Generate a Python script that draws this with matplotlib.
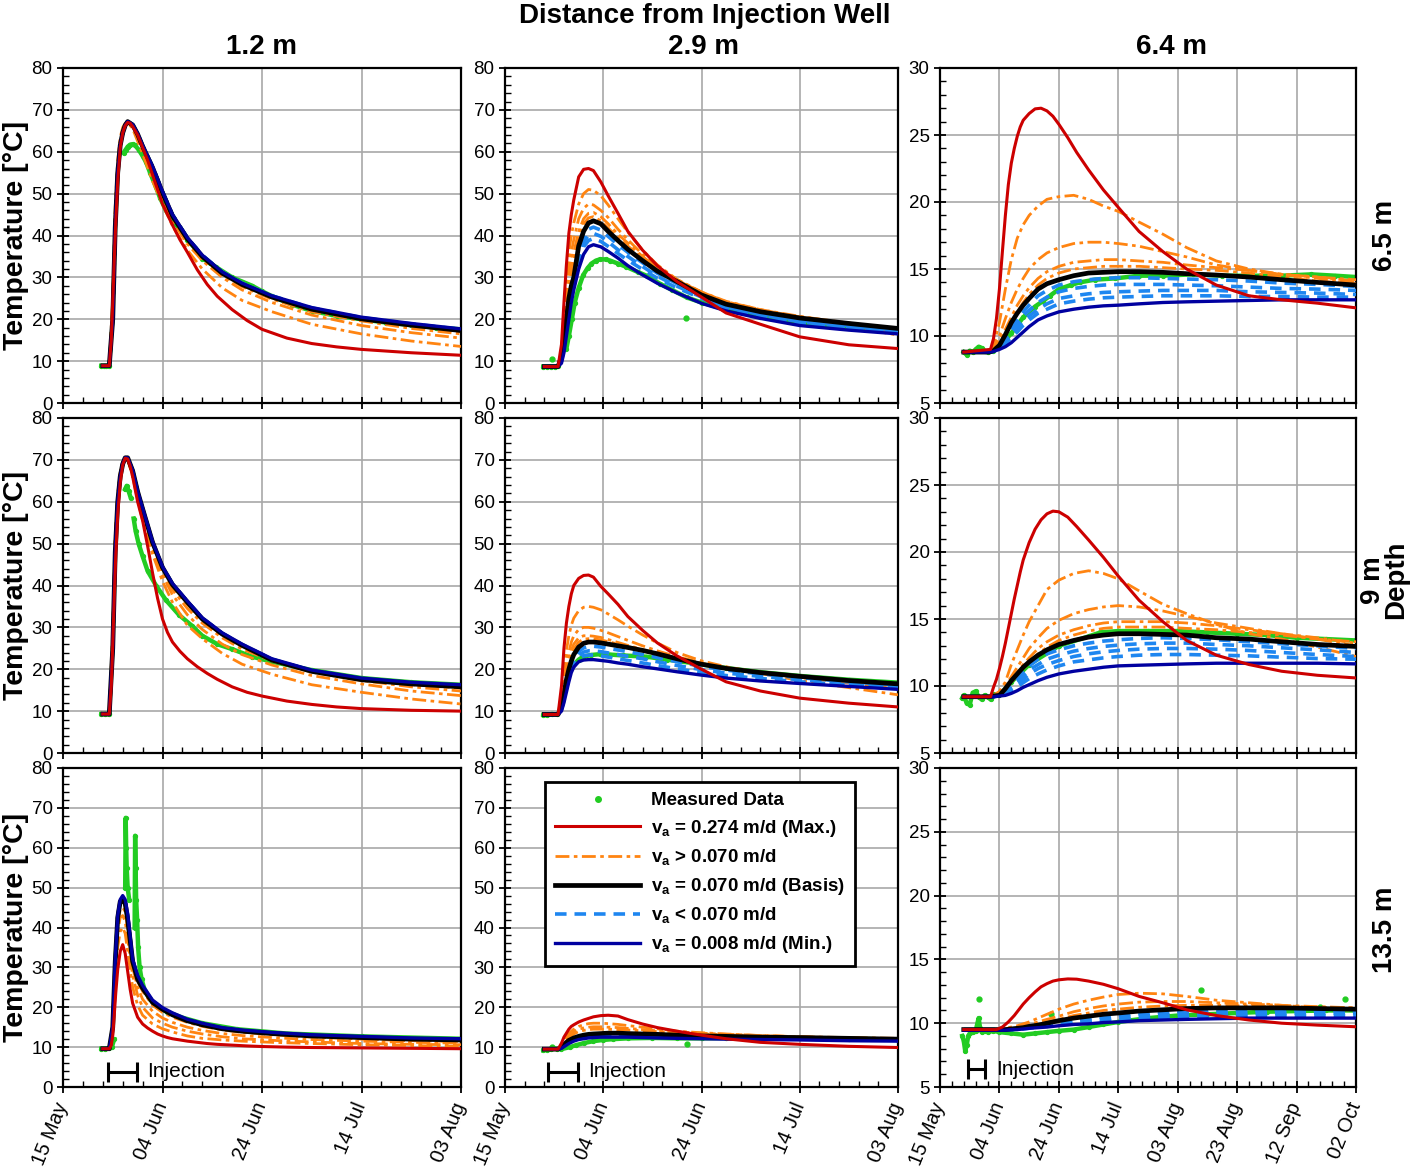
import numpy as np
import matplotlib.pyplot as plt
from matplotlib.lines import Line2D
from matplotlib.ticker import MultipleLocator

plt.rcParams['font.family'] = ['Liberation Sans', 'DejaVu Sans']
plt.rcParams['mathtext.fontset'] = 'custom'
plt.rcParams['mathtext.rm'] = 'Liberation Sans'
plt.rcParams['mathtext.bf'] = 'Liberation Sans:bold'

nan = np.nan

# ---- axis labels / ticks ----
col_titles = ['1.2 m', '2.9 m', '6.4 m']
row_titles = ['6.5 m', '9 m\nDepth', '13.5 m']
date_days_short = [0, 20, 40, 60, 80]
date_labels_short = ['15 May', '04 Jun', '24 Jun', '14 Jul', '03 Aug']
date_days_long = [0, 20, 40, 60, 80, 100, 120, 140]
date_labels_long = ['15 May', '04 Jun', '24 Jun', '14 Jul', '03 Aug', '23 Aug', '12 Sep', '02 Oct']
legend_labels = ['Measured Data',
                 r'v$_\mathbf{a}$ = 0.274 m/d (Max.)',
                 r'v$_\mathbf{a}$ > 0.070 m/d',
                 r'v$_\mathbf{a}$ = 0.070 m/d (Basis)',
                 r'v$_\mathbf{a}$ < 0.070 m/d',
                 r'v$_\mathbf{a}$ = 0.008 m/d (Min.)']
inj_start = [9.0, 8.75, 9.3]   # days after 15 May
inj_end = [14.9, 14.9, 15.3]

# ---- time grids (days after 15 May) ----
t_col1 = [8, 9.3, 10, 10.5, 11, 11.5, 12, 12.5, 13, 14, 15, 16, 18, 20, 22, 25, 28, 32, 36, 42, 50, 60, 70, 80]
t_col2 = [8, 10.8, 11.5, 12, 12.5, 13, 13.5, 14, 15, 16, 17, 18, 19.5, 21, 23, 25, 28, 31, 35, 40, 45, 52, 60, 70, 80]
t_col3 = [8, 16.6, 18, 20, 22, 24, 26, 28, 30, 33, 36, 40, 45, 50, 55, 60, 67, 75, 83, 93, 104, 115, 127, 140]
# denser grids for the fast v_a = 0.274 m/d curve
t_red1 = [8, 9.3, 9.7, 10, 10.3, 10.6, 11, 11.5, 12, 12.5, 13, 13.5, 14, 15, 16, 17, 18, 19, 20, 21, 22, 23.5,
          25, 27, 29, 31, 34, 37, 40, 45, 50, 55, 60, 70, 80]
t_red3 = [8, 17, 18, 19, 20, 21, 22, 23, 24, 25, 26, 27, 28, 30, 32, 34, 36, 38, 40, 43, 46, 50, 55, 60, 67,
          75, 83, 93, 104, 115, 127, 140]

# ===== depth 6.5 m, 1.2 m =====
red_a1 = [8.9, 8.9, 15, 24, 34, 43, 53, 61, 64.5, 66.2, 67, 66.8, 66, 64, 61, 58, 54.5, 51, 47.5, 45, 42.5, 39,
          36, 31.8, 28.3, 25.5, 22.3, 19.7, 17.6, 15.5, 14.2, 13.4, 12.8, 12.0, 11.4]
org_a1 = [[8.9, 8.9, 25, 47, 58, 63.5, 65.8, 66.8, 67, 65.5, 62.5, 59.5, 53, 47.5, 42.3, 36.5, 32, 27.5, 24.5, 21.8, 18.8, 16.5, 14.8, 13.5],
          [8.9, 8.9, 23, 45, 56.5, 62.3, 65, 66.5, 67.1, 65.8, 63.2, 60, 54.5, 48.5, 43.5, 38, 34, 30, 27, 24, 21, 18.5, 16.8, 15.5],
          [8.9, 8.9, 22, 44, 56, 62, 64.8, 66.5, 67.1, 66, 63.5, 60.5, 55, 49, 44, 38.5, 34.5, 30.5, 27.8, 24.8, 21.8, 19.6, 17.8, 16.5],
          [8.9, 8.9, 21, 43, 55.5, 61.8, 64.7, 66.4, 67.2, 66.2, 63.8, 60.8, 55.5, 49.3, 44.3, 38.8, 34.8, 30.8, 28.2, 25.2, 22.2, 20.0, 18.4, 17.0]]
bas_a1 = [8.9, 8.9, 20, 42, 55, 61.5, 64.5, 66.3, 67.2, 66.4, 64.2, 61.3, 56.2, 50.2, 44.7, 39.2, 35, 31, 28.3, 25.3, 22.4, 20.1, 18.6, 17.3]
dsh_a1 = [[8.9, 8.9, 20, 42, 55, 61.5, 64.5, 66.3, 67.2, 66.4, 64.2, 61.4, 56.4, 50.4, 44.9, 39.4, 35.2, 31.2, 28.5, 25.5, 22.6, 20.3, 18.8, 17.5],
          [8.9, 8.9, 20, 42, 55, 61.5, 64.5, 66.3, 67.2, 66.5, 64.3, 61.5, 56.5, 50.5, 45, 39.5, 35.3, 31.3, 28.6, 25.6, 22.7, 20.4, 18.9, 17.6]]
min_a1 = [8.9, 8.9, 20, 42, 55, 61.5, 64.5, 66.3, 67.2, 66.5, 64.3, 61.5, 56.5, 50.5, 45, 39.5, 35.3, 31.3, 28.6, 25.6, 22.8, 20.5, 19.0, 17.7]
meas_t_a1 = [7.7, 8.2, 8.7, 9.2, nan, 12.2, 12.6, 13.0, 13.5, 14.0, 14.5, 15.2, 16.0, 16.7, 17.5, 18.7, 19.5, 20.7, 21.5, 22.5, 23.7, 25, 26.5, 28, 29.5, 30.7, 34, 36, 38, 40, 42, 46, 50, 55, 60, 65, 70, 75, 80]
meas_v_a1 = [8.9, 8.9, 8.9, 8.9, nan, 59.8, 60.5, 61.2, 61.7, 61.8, 61.5, 60.5, 59, 57.5, 55, 51.5, 49, 46, 44.5, 43, 41, 39, 37, 34.5, 33.5, 32.5, 30, 29, 28, 26.7, 25.5, 23.5, 22, 20.8, 20, 19.2, 18.6, 18, 17.6]
out_t_a1, out_v_a1 = [], []

# ===== depth 6.5 m, 2.9 m =====
red_a2 = [8.7, 8.7, 14, 24, 33, 40.5, 45, 48.5, 54, 55.8, 56, 55.5, 52.8, 49.5, 45.3, 41, 36.5, 32.8, 29, 25.3, 21.5, 18.8, 15.8, 13.9, 13.0]
org_a2 = [[8.7, 8.7, 13, 22, 30, 36, 40, 43, 47.5, 50, 51, 50.8, 49.5, 47.3, 44, 40.8, 36.5, 33, 29.5, 26.5, 24, 21.8, 20, 18.3, 16.2],
          [8.7, 8.7, 12, 19, 27, 32, 36, 39, 44, 46.5, 47.5, 47.3, 46, 44.3, 41.5, 39, 35.5, 32.5, 29.5, 26.5, 24.3, 22.3, 20.5, 18.8, 16.8],
          [8.7, 8.7, 11.5, 17, 24, 29, 33, 36, 41, 44, 45.3, 45.5, 44.5, 42.8, 40.3, 38.2, 35, 32.2, 29.3, 26.5, 24.2, 22.3, 20.7, 19, 17.2],
          [8.7, 8.7, 11.2, 16, 22, 27, 31, 34, 39.5, 42.8, 44.2, 44.5, 43.5, 41.8, 39.5, 37.5, 34.6, 32, 29.2, 26.3, 24, 22.1, 20.6, 19.1, 17.5]]
bas_a2 = [8.7, 8.7, 11, 15, 20, 25, 28, 30, 37.5, 41, 43, 43.5, 42.8, 41, 38.8, 36.7, 34, 31.5, 29, 25.8, 23.6, 21.8, 20.3, 19.0, 17.8]
dsh_a2 = [[8.7, 8.7, 10.7, 14, 19, 23.5, 27, 29.5, 35.5, 39.5, 41.5, 42, 41.3, 39.8, 37.8, 36, 33.5, 31, 28.5, 25.6, 23.2, 21.4, 19.8, 18.5, 17.4],
          [8.7, 8.7, 10.3, 13.3, 18, 22.5, 26, 28.5, 34.5, 38.5, 40, 40.5, 39.8, 38.5, 36.6, 35, 32.6, 30.3, 27.9, 25.3, 22.9, 21.1, 19.4, 18.1, 17.1],
          [8.7, 8.7, 10, 12.8, 17, 21.3, 25, 27.8, 33.5, 37.3, 38.8, 39.3, 38.6, 37.4, 35.7, 34.1, 31.9, 29.8, 27.5, 25.0, 22.6, 20.8, 19.1, 17.8, 16.8]]
min_a2 = [8.7, 8.7, 9.5, 12, 16, 20, 24, 27, 32, 35.5, 37.3, 37.8, 37.3, 36.2, 34.6, 32.8, 30.6, 28.6, 26.3, 23.8, 22, 20.2, 18.5, 17.4, 16.5]
meas_t_a2 = [7.8, 8.5, 9.3, 10.2, 10.8, nan, 12.5, 13, 13.6, 14.2, 15, 15.9, 16.8, 17.6, 18.5, 19.3, 20.5, 21.4, 23, 24.7, 27, 29, 31.5, 34, 37, 40, 45, 52, 60, 70, 80]
meas_v_a2 = [8.7, 8.7, 8.7, 8.7, 8.8, nan, 13, 16, 20, 24, 27.5, 30.5, 32.2, 33.3, 34, 34.3, 34.3, 34, 33.3, 32.5, 31.3, 30.3, 28.5, 27, 25.2, 24, 22.3, 20.5, 19.2, 18.2, 17.5]
out_t_a2, out_v_a2 = [9.6, 36.8], [10.5, 20.3]

# ===== depth 6.5 m, 6.4 m =====
red_a3 = [8.8, 9.0, 9.8, 11.3, 13.5, 16.3, 19, 21.3, 22.9, 24, 24.9, 25.6, 26.1, 26.6, 26.95, 27, 26.8, 26.4,
          25.8, 24.8, 23.7, 22.4, 20.9, 19.6, 17.8, 16.3, 15, 13.8, 13, 12.7, 12.45, 12.1]
org_a3 = [[8.8, 8.8, 9.3, 11, 13.5, 15.7, 17.3, 18.3, 19, 19.7, 20.2, 20.4, 20.5, 20.2, 19.7, 19.3, 18.5, 17.6, 16.6, 15.6, 15, 14.6, 14.4, 14.1],
          [8.8, 8.8, 9.1, 10, 11.3, 12.5, 13.5, 14.3, 15, 15.7, 16.2, 16.6, 16.9, 17, 17, 16.9, 16.7, 16.3, 15.9, 15.3, 14.9, 14.6, 14.4, 14.2],
          [8.8, 8.8, 9, 9.6, 10.5, 11.4, 12.3, 13, 13.6, 14.3, 14.8, 15.2, 15.5, 15.6, 15.7, 15.7, 15.6, 15.5, 15.3, 15.1, 14.9, 14.6, 14.3, 14.0],
          [8.8, 8.8, 9, 9.4, 10.2, 11, 11.8, 12.5, 13.1, 13.8, 14.3, 14.7, 15, 15.1, 15.2, 15.2, 15.2, 15.1, 15, 14.9, 14.7, 14.4, 14.1, 13.9]]
bas_a3 = [8.8, 8.8, 8.9, 9.3, 10.1, 11, 11.7, 12.3, 12.8, 13.5, 13.9, 14.2, 14.5, 14.7, 14.75, 14.8, 14.8, 14.75, 14.65, 14.55, 14.4, 14.2, 14.0, 13.8]
dsh_a3 = [[8.8, 8.8, 8.9, 9.2, 9.8, 10.5, 11.2, 11.8, 12.3, 13, 13.4, 13.8, 14.05, 14.2, 14.3, 14.35, 14.35, 14.3, 14.25, 14.2, 14.1, 13.95, 13.85, 13.7],
          [8.8, 8.8, 8.9, 9.15, 9.7, 10.3, 10.9, 11.5, 11.9, 12.5, 12.9, 13.3, 13.55, 13.7, 13.8, 13.85, 13.85, 13.85, 13.8, 13.75, 13.65, 13.55, 13.5, 13.4],
          [8.8, 8.8, 8.9, 9.1, 9.6, 10.1, 10.6, 11.1, 11.5, 12.0, 12.4, 12.8, 13.0, 13.15, 13.25, 13.3, 13.35, 13.4, 13.4, 13.4, 13.3, 13.25, 13.2, 13.1],
          [8.8, 8.8, 8.85, 9.05, 9.4, 9.9, 10.3, 10.8, 11.2, 11.7, 12.0, 12.4, 12.6, 12.75, 12.85, 12.9, 12.95, 13, 13, 13, 12.95, 12.95, 12.9, 12.9]]
min_a3 = [8.8, 8.8, 8.85, 9, 9.2, 9.5, 9.9, 10.3, 10.7, 11.2, 11.5, 11.8, 12, 12.15, 12.25, 12.3, 12.4, 12.5, 12.55, 12.6, 12.65, 12.7, 12.7, 12.7]
meas_t_a3 = [8, 9, 10, 11, 12, 13, 14, 15, 16, 18, 20, 24, 28, 32, 34.6, 37, 40, 44, 47, 52, 59, 67, 75, 85, 95, 105, 115, 125, 133, 140]
meas_v_a3 = [8.8, 8.6, 8.9, 8.8, 9.0, 9.2, 9.1, 8.9, 8.8, 8.9, 9.2, 10.2, 11.4, 12.2, 12.6, 13.0, 13.5, 13.8, 14.0, 14.2, 14.3, 14.5, 14.5, 14.6, 14.5, 14.5, 14.5, 14.6, 14.5, 14.4]
out_t_a3, out_v_a3 = [], []

# ===== depth 9 m, 1.2 m =====
red_b1 = [9.3, 9.3, 16, 26, 37, 47, 57, 64.5, 68.8, 70.4, 70.2, 68.5, 66, 60, 55.5, 49.5, 43, 37, 32, 28.8, 26.5, 24.3,
          22.5, 20.6, 19, 17.6, 15.8, 14.5, 13.6, 12.4, 11.6, 11, 10.6, 10.2, 10.0]
org_b1 = [[9.3, 9.3, 29, 51.5, 61.8, 67, 69.5, 70.5, 70, 66, 60.5, 55.5, 47.5, 41, 36, 30.5, 27.3, 23.8, 21.2, 18.8, 16.3, 14.5, 12.9, 11.7],
          [9.3, 9.3, 28, 51, 61.5, 66.8, 69.4, 70.5, 70.1, 66.5, 61, 56.3, 48.5, 42.5, 37.8, 33, 29.5, 26, 23.5, 21, 18.5, 16.5, 14.8, 13.7],
          [9.3, 9.3, 27, 50, 61, 66.5, 69.3, 70.5, 70.2, 66.8, 61.5, 57, 49, 43.5, 39, 34.5, 31, 27.5, 24.8, 22, 19.3, 17.3, 15.8, 14.8],
          [9.3, 9.3, 26, 49, 60.5, 66.3, 69.2, 70.5, 70.3, 67, 62, 57.5, 49.5, 44, 40, 35.5, 31.8, 28.2, 25.5, 22.3, 19.6, 17.6, 16.3, 15.5]]
bas_b1 = [9.3, 9.3, 25, 48, 60, 66, 69, 70.5, 70.5, 67.4, 62.4, 58.3, 50.3, 44.3, 40.2, 36, 32, 28.4, 25.7, 22.2, 19.5, 17.5, 16.5, 15.8]
dsh_b1 = [[9.3, 9.3, 25, 48, 60, 66, 69, 70.5, 70.5, 67.5, 62.5, 58.4, 50.4, 44.4, 40.4, 36.2, 32.2, 28.6, 25.9, 22.4, 19.7, 17.7, 16.7, 16.1]]
min_b1 = [9.3, 9.3, 25, 48, 60, 66, 69, 70.5, 70.5, 67.5, 62.5, 58.5, 50.5, 44.5, 40.5, 36.3, 32.3, 28.7, 26, 22.5, 19.8, 17.9, 16.9, 16.3]
meas_t_b1 = [7.7, 8.5, 9.3, nan, 12.5, 12.8, 13.2, 13.6, nan, 14.2, 14.6, 15.2, 16, 17, 18.7, 20.7, 23.3, 26, 28, 31, 34, 38, 42, 50, 60, 70, 80]
meas_v_b1 = [9.3, 9.3, 9.3, nan, 63, 63.8, 62.5, 61, nan, 56, 53, 50, 47, 43.5, 40, 36.5, 33, 30.3, 28, 26, 24.8, 23, 21.8, 19.8, 17.9, 16.9, 16.3]
out_t_b1, out_v_b1 = [], []

# ===== depth 9 m, 2.9 m =====
red_b2 = [9.2, 9.2, 16, 25, 31, 35, 38, 40, 41.7, 42.4, 42.5, 42, 39.8, 38, 35.5, 32.6, 29.3, 26.3, 23.2, 20, 17, 14.8, 13.1, 11.9, 11.0]
org_b2 = [[9.2, 9.2, 14, 20, 24.5, 28, 30.5, 32.2, 34, 34.8, 35, 34.8, 34.2, 33.2, 31.8, 30.3, 28.2, 26.3, 24, 22, 20.6, 19.0, 17.3, 15.6, 13.9],
          [9.2, 9.2, 12.5, 17, 21, 24, 26.5, 28, 29.5, 30, 30, 29.8, 29.3, 28.7, 27.8, 26.9, 25.6, 24.4, 23, 21.6, 20.5, 19.2, 18, 16.7, 15.3],
          [9.2, 9.2, 12, 16, 19.5, 22.3, 24.5, 26, 27.5, 28, 28, 27.9, 27.6, 27.1, 26.4, 25.7, 24.7, 23.7, 22.5, 21.3, 20.3, 19.2, 18.2, 17, 16],
          [9.2, 9.2, 11.6, 15, 18.5, 21.3, 23.3, 24.8, 26.5, 27.2, 27.3, 27.3, 27, 26.6, 26, 25.4, 24.6, 23.7, 22.6, 21.4, 20.4, 19.3, 18.4, 17.3, 16.3]]
bas_b2 = [9.2, 9.2, 11, 14, 17.5, 20, 22, 23.5, 25.3, 26.2, 26.5, 26.5, 26.3, 26, 25.6, 25.2, 24.5, 23.7, 22.5, 21.2, 20.2, 19.2, 18.3, 17.3, 16.5]
dsh_b2 = [[9.2, 9.2, 10.8, 13.5, 16.5, 19, 21, 22.5, 24.3, 25.1, 25.4, 25.5, 25.3, 25, 24.6, 24.2, 23.5, 22.8, 21.8, 20.7, 19.8, 18.9, 18, 17, 16.2],
          [9.2, 9.2, 10.6, 13, 16, 18.5, 20.5, 21.8, 23.4, 24.1, 24.4, 24.4, 24.2, 23.9, 23.5, 23.1, 22.5, 21.8, 20.9, 19.9, 19.1, 18.3, 17.5, 16.6, 15.9],
          [9.2, 9.2, 10.3, 12.6, 15.3, 17.8, 19.8, 21.2, 22.6, 23.2, 23.4, 23.4, 23.2, 22.9, 22.5, 22.1, 21.5, 20.9, 20.1, 19.2, 18.5, 17.8, 17, 16.3, 15.6]]
min_b2 = [9.2, 9.2, 10, 12, 14.5, 17, 19.2, 20.5, 21.8, 22.2, 22.3, 22.3, 22.1, 21.9, 21.5, 21.2, 20.6, 20.1, 19.4, 18.6, 17.9, 17.2, 16.6, 15.9, 15.2]
meas_t_b2 = [7.8, 8.5, 9.5, 10.5, nan, 13.9, 15, 15.9, 17.5, 19.3, 21.4, 24, 28.8, 33, 38, 45, 52, 60, 70, 80]
meas_v_b2 = [9.1, 9.0, 9.3, 9.2, nan, 21, 22.3, 23, 23.4, 23.6, 23.5, 23.3, 23, 22.3, 21.5, 20.3, 19.3, 18.4, 17.5, 16.8]
out_t_b2, out_v_b2 = [], []

# ===== depth 9 m, 6.4 m =====
red_b3 = [9.2, 9.2, 9.9, 10.5, 11.3, 12.2, 13.2, 14.3, 15.4, 16.5, 17.5, 18.5, 19.4, 20.7, 21.7, 22.4, 22.85, 23.05,
          23, 22.6, 21.9, 20.9, 19.6, 18.2, 16.4, 14.8, 13.4, 12.3, 11.6, 11.1, 10.8, 10.6]
org_b3 = [[9.2, 9.2, 9.3, 9.6, 10.3, 11.6, 12.7, 13.8, 14.8, 16, 17.2, 17.9, 18.4, 18.6, 18.4, 18.0, 17.1, 16.1, 15.4, 14.6, 13.9, 13.5, 12.9, 12.2],
          [9.2, 9.2, 9.25, 9.5, 10, 10.7, 11.4, 12.1, 12.8, 13.6, 14.3, 14.9, 15.4, 15.7, 15.9, 16, 15.9, 15.6, 15.2, 14.7, 14.3, 13.9, 13.5, 13.0],
          [9.2, 9.2, 9.25, 9.45, 9.9, 10.4, 11, 11.6, 12.1, 12.8, 13.3, 13.8, 14.2, 14.5, 14.7, 14.8, 14.8, 14.8, 14.7, 14.5, 14.2, 13.9, 13.6, 13.2],
          [9.2, 9.2, 9.25, 9.4, 9.8, 10.3, 10.8, 11.3, 11.8, 12.4, 12.9, 13.4, 13.8, 14.1, 14.3, 14.4, 14.4, 14.4, 14.3, 14.2, 14, 13.8, 13.5, 13.3]]
bas_b3 = [9.2, 9.2, 9.25, 9.3, 9.8, 10.4, 10.9, 11.4, 11.8, 12.3, 12.7, 13.1, 13.4, 13.65, 13.8, 13.9, 13.9, 13.85, 13.8, 13.6, 13.5, 13.3, 13.1, 12.95]
dsh_b3 = [[9.2, 9.2, 9.25, 9.3, 9.7, 10.2, 10.7, 11.1, 11.5, 12, 12.4, 12.7, 13, 13.2, 13.35, 13.45, 13.55, 13.6, 13.55, 13.45, 13.3, 13.15, 13.0, 12.8],
          [9.2, 9.2, 9.25, 9.3, 9.6, 10.0, 10.4, 10.8, 11.2, 11.6, 12.0, 12.3, 12.6, 12.8, 12.95, 13.05, 13.15, 13.2, 13.2, 13.1, 13, 12.85, 12.7, 12.5],
          [9.2, 9.2, 9.2, 9.3, 9.5, 9.8, 10.2, 10.5, 10.9, 11.3, 11.6, 11.9, 12.2, 12.4, 12.55, 12.65, 12.75, 12.8, 12.8, 12.75, 12.65, 12.5, 12.35, 12.2],
          [9.2, 9.2, 9.2, 9.3, 9.4, 9.65, 9.95, 10.25, 10.55, 10.9, 11.2, 11.5, 11.8, 11.95, 12.1, 12.2, 12.3, 12.35, 12.35, 12.3, 12.25, 12.15, 12.05, 12.0]]
min_b3 = [9.2, 9.2, 9.2, 9.25, 9.3, 9.45, 9.65, 9.9, 10.1, 10.4, 10.65, 10.9, 11.1, 11.25, 11.4, 11.5, 11.55, 11.6, 11.65, 11.7, 11.7, 11.7, 11.7, 11.65]
meas_t_b3 = [7.5, 8, 9, 10, 11, 12, 13, 14, 15, 16, 17, 18, 20, 24, 30, 40, 50, 54, 60, 70, 80, 90, 100, 110, 120, 130, 140]
meas_v_b3 = [9.1, 9.3, 8.7, 8.6, 9.5, 9.6, 9.2, 9.0, 9.3, 9.2, 9.0, 9.4, 9.3, 10.3, 11.6, 13, 13.7, 14, 14.1, 14.1, 14.1, 14.0, 13.9, 13.8, 13.6, 13.5, 13.4]
out_t_b3, out_v_b3 = [], []

# ===== depth 13.5 m, 1.2 m =====
red_c1 = [9.6, 9.6, 10.5, 13, 18, 23.5, 29.5, 34, 35.7, 33.5, 29, 24.5, 21, 17.5, 15.8, 14.8, 14, 13.3, 12.8, 12.4,
          12.1, 11.8, 11.5, 11.2, 10.9, 10.7, 10.5, 10.3, 10.15, 10, 9.9, 9.85, 9.8, 9.7, 9.6]
org_c1 = [[9.6, 9.6, 13, 25, 35, 39, 40, 38.5, 34, 25, 20.5, 18, 15.8, 14.6, 13.8, 12.8, 12.2, 11.8, 11.5, 11.2, 10.9, 10.6, 10.4, 10.2],
          [9.6, 9.6, 14, 28, 39, 42.5, 43, 41.5, 37, 28, 23, 20, 17.3, 16, 15, 14, 13.3, 12.6, 12.1, 11.7, 11.3, 10.9, 10.7, 10.6],
          [9.6, 9.6, 14.5, 30, 41, 44.5, 45, 44, 39.5, 30, 25, 22, 19, 17.3, 16.2, 15, 14.2, 13.4, 12.9, 12.4, 11.9, 11.5, 11.2, 11.0],
          [9.6, 9.6, 15, 31, 42, 46, 46.5, 45.5, 41, 31, 26.5, 24, 20.5, 18.7, 17.5, 16.2, 15.2, 14.3, 13.7, 13.1, 12.5, 12, 11.6, 11.4]]
bas_c1 = [9.6, 9.6, 15, 31.5, 42.5, 46.5, 47, 46, 42, 31.5, 27, 24.8, 21.2, 19.5, 18.1, 16.6, 15.6, 14.6, 14, 13.4, 12.8, 12.4, 12.0, 11.8]
dsh_c1 = [[9.6, 9.6, 15, 31.8, 42.8, 46.8, 47.5, 46.5, 42.8, 31.8, 27.5, 25.2, 21.5, 19.7, 18.4, 16.8, 15.8, 14.8, 14.2, 13.55, 12.95, 12.55, 12.15, 11.95]]
min_c1 = [9.6, 9.6, 15, 32, 43, 47, 48, 47, 43.5, 32, 28, 25.5, 21.8, 19.9, 18.6, 17, 16, 14.9, 14.3, 13.7, 13.1, 12.7, 12.3, 12.1]
meas_t_c1 = [7.7, 8.5, 9.3, 9.8, 10.3, nan, 12.5, 12.6, 12.7, 12.8, 13.0, 13.3, nan, 14.4, 14.5, 14.6, 14.7, 14.9, 15.1, 15.4, 15.8, 16.5, 17.5, 19, 21, 24, 28, 35, 45, 60, 80]
meas_v_c1 = [9.6, 9.6, 9.8, 10, 12, nan, 50, 67.5, 60, 55, 50, 47, nan, 40, 63, 55, 47, 42, 35, 30, 27, 24, 22, 20, 18.8, 17.4, 16, 14.5, 13.4, 12.7, 12.1]
out_t_c1, out_v_c1 = [], []

# ===== depth 13.5 m, 2.9 m =====
red_c2 = [9.5, 9.5, 11, 12.5, 13.5, 14.5, 15.2, 15.6, 16.3, 16.8, 17.2, 17.6, 17.9, 18, 17.8, 16.9, 15.8, 14.9, 14, 13, 12.1, 11.2, 10.7, 10.2, 9.9]
org_c2 = [[9.5, 9.5, 10.6, 11.6, 12.6, 13.4, 14, 14.5, 15.2, 15.6, 15.9, 16, 16, 15.9, 15.7, 15.4, 15, 14.6, 14, 13.6, 13.3, 12.9, 12.6, 12.2, 11.8],
          [9.5, 9.5, 10.4, 11.2, 12.1, 12.8, 13.4, 13.9, 14.5, 14.8, 15, 15.1, 15.1, 15, 14.9, 14.7, 14.4, 14.1, 13.8, 13.5, 13.2, 12.9, 12.6, 12.3, 12],
          [9.5, 9.5, 10.2, 11, 11.8, 12.4, 12.9, 13.3, 13.9, 14.2, 14.4, 14.5, 14.5, 14.5, 14.4, 14.3, 14.1, 13.9, 13.6, 13.3, 13.1, 12.9, 12.6, 12.4, 12.2]]
bas_c2 = [9.5, 9.5, 10, 10.6, 11.2, 11.7, 12, 12.3, 12.7, 13, 13.2, 13.3, 13.4, 13.5, 13.5, 13.4, 13.3, 13.2, 13, 12.8, 12.7, 12.5, 12.4, 12.2, 12]
dsh_c2 = [[9.5, 9.5, 9.9, 10.4, 10.9, 11.3, 11.7, 12, 12.4, 12.7, 12.9, 13, 13.1, 13.1, 13.1, 13.1, 13, 12.9, 12.7, 12.5, 12.4, 12.3, 12.1, 12, 11.8],
          [9.5, 9.5, 9.8, 10.2, 10.7, 11.1, 11.4, 11.7, 12.1, 12.4, 12.6, 12.7, 12.8, 12.8, 12.8, 12.8, 12.7, 12.6, 12.5, 12.3, 12.2, 12.1, 12, 11.8, 11.7]]
min_c2 = [9.5, 9.5, 9.7, 10.1, 10.5, 10.9, 11.2, 11.5, 11.9, 12.1, 12.3, 12.4, 12.5, 12.5, 12.5, 12.5, 12.4, 12.3, 12.2, 12.1, 12, 11.9, 11.8, 11.6, 11.5]
meas_t_c2 = [7.8, 8.5, 9.3, 10.5, 11.5, 13.2, 14.5, 16, 18, 20, 22, 25, 30, 35, 40, 45, 52, 60, 70, 80]
meas_v_c2 = [9.2, 9.3, 9.5, 9.6, 9.5, 10, 10.5, 11, 11.5, 11.8, 12, 12.2, 12.3, 12.2, 12.2, 12.3, 12.3, 12.2, 12.1, 11.9]
out_t_c2, out_v_c2 = [9.6, 37], [10.0, 10.8]

# ===== depth 13.5 m, 6.4 m =====
red_c3 = [9.5, 9.5, 9.5, 9.5, 9.6, 9.7, 9.9, 10.1, 10.35, 10.6, 10.9, 11.2, 11.5, 12, 12.45, 12.85, 13.1, 13.3,
          13.4, 13.47, 13.45, 13.3, 13.05, 12.7, 12.1, 11.6, 11.05, 10.6, 10.25, 10.0, 9.85, 9.72]
org_c3 = [[9.5, 9.5, 9.5, 9.55, 9.6, 9.7, 9.8, 9.95, 10.1, 10.4, 10.7, 11.1, 11.5, 11.8, 12.05, 12.25, 12.35, 12.3, 12.1, 11.8, 11.6, 11.4, 11.2, 11.0],
          [9.5, 9.5, 9.5, 9.5, 9.55, 9.6, 9.7, 9.8, 9.9, 10.1, 10.3, 10.55, 10.9, 11.15, 11.35, 11.5, 11.65, 11.7, 11.7, 11.6, 11.5, 11.4, 11.3, 11.2],
          [9.5, 9.5, 9.5, 9.5, 9.5, 9.55, 9.6, 9.7, 9.8, 9.95, 10.1, 10.3, 10.6, 10.8, 11, 11.1, 11.25, 11.35, 11.4, 11.4, 11.35, 11.3, 11.25, 11.2]]
bas_c3 = [9.5, 9.5, 9.5, 9.5, 9.5, 9.55, 9.6, 9.65, 9.75, 9.85, 10, 10.2, 10.4, 10.55, 10.7, 10.8, 10.95, 11.05, 11.15, 11.2, 11.2, 11.2, 11.15, 11.1]
dsh_c3 = [[9.5, 9.5, 9.5, 9.5, 9.5, 9.5, 9.55, 9.6, 9.7, 9.8, 9.9, 10.05, 10.2, 10.35, 10.5, 10.6, 10.75, 10.85, 10.95, 11, 11, 11, 11, 11],
          [9.5, 9.5, 9.5, 9.5, 9.5, 9.5, 9.55, 9.6, 9.65, 9.75, 9.85, 9.95, 10.05, 10.2, 10.3, 10.4, 10.55, 10.65, 10.75, 10.8, 10.8, 10.8, 10.8, 10.8],
          [9.45, 9.45, 9.45, 9.45, 9.45, 9.5, 9.5, 9.55, 9.6, 9.7, 9.75, 9.85, 9.95, 10.05, 10.15, 10.25, 10.35, 10.45, 10.5, 10.55, 10.6, 10.6, 10.6, 10.6]]
min_c3 = [9.45, 9.45, 9.45, 9.45, 9.45, 9.5, 9.5, 9.55, 9.6, 9.65, 9.7, 9.8, 9.9, 9.95, 10.05, 10.1, 10.2, 10.25, 10.3, 10.35, 10.4, 10.4, 10.4, 10.4]
meas_t_c3 = [7.5, 8, 8.5, 9, 9.5, 10, 11, 12, 13, 13.5, 14, 15, 16, 18, 20, 24, 28, 32, 36, 40, 45, 50, 55, 60, 70, 80, 90, 100, 110, 120, 130, 140]
meas_v_c3 = [9.0, 8.6, 7.8, 8.3, 9.0, 9.2, 9.3, 9.4, 10.4, 9.6, 9.3, 9.4, 9.3, 9.4, 9.3, 9.2, 9.1, 9.2, 9.3, 9.4, 9.5, 9.7, 9.9, 10.1, 10.4, 10.6, 10.7, 10.8, 10.9, 10.95, 11.0, 11.0]
out_t_c3, out_v_c3 = [13, 37.5, 88, 128, 136.4], [11.9, 10.7, 12.6, 11.3, 11.9]

# ---- styles ----
C_RED = '#cc0000'
C_ORG = '#ff8411'
C_BLUE = '#1e86f0'
C_NAVY = '#0000a0'
C_GRN = '#22cc22'
LS_ORG = (0, (5, 1.6, 1.3, 1.6))
LS_DSH = (0, (3.2, 2.2))

panels = [
    [(t_col1, t_red1, red_a1, org_a1, bas_a1, dsh_a1, min_a1, meas_t_a1, meas_v_a1, out_t_a1, out_v_a1),
     (t_col2, t_col2, red_a2, org_a2, bas_a2, dsh_a2, min_a2, meas_t_a2, meas_v_a2, out_t_a2, out_v_a2),
     (t_col3, t_red3, red_a3, org_a3, bas_a3, dsh_a3, min_a3, meas_t_a3, meas_v_a3, out_t_a3, out_v_a3)],
    [(t_col1, t_red1, red_b1, org_b1, bas_b1, dsh_b1, min_b1, meas_t_b1, meas_v_b1, out_t_b1, out_v_b1),
     (t_col2, t_col2, red_b2, org_b2, bas_b2, dsh_b2, min_b2, meas_t_b2, meas_v_b2, out_t_b2, out_v_b2),
     (t_col3, t_red3, red_b3, org_b3, bas_b3, dsh_b3, min_b3, meas_t_b3, meas_v_b3, out_t_b3, out_v_b3)],
    [(t_col1, t_red1, red_c1, org_c1, bas_c1, dsh_c1, min_c1, meas_t_c1, meas_v_c1, out_t_c1, out_v_c1),
     (t_col2, t_col2, red_c2, org_c2, bas_c2, dsh_c2, min_c2, meas_t_c2, meas_v_c2, out_t_c2, out_v_c2),
     (t_col3, t_red3, red_c3, org_c3, bas_c3, dsh_c3, min_c3, meas_t_c3, meas_v_c3, out_t_c3, out_v_c3)],
]

W, H = 1416, 1171
fig = plt.figure(figsize=(W / 100, H / 100), dpi=100)

col_left = [63, 505, 940]
col_w = [398, 393, 416]
row_top = [68, 418, 768]
row_h = [335, 335, 319]


def draw(ax, t, tr, red, org, bas, dsh, mn, mt, mv, ot, ov):
    ax.plot(mt, mv, color=C_GRN, lw=3.2, marker='o', ms=2.8, zorder=2.5)
    ax.plot(ot, ov, ls='none', marker='o', ms=3.5, color=C_GRN, zorder=2.5)
    for o in org:
        ax.plot(t, o, color=C_ORG, lw=2.0, ls=LS_ORG, zorder=3)
    for d in dsh:
        ax.plot(t, d, color=C_BLUE, lw=2.6, ls=LS_DSH, zorder=4)
    ax.plot(t, bas, color='k', lw=3.4, zorder=5)
    ax.plot(t, mn, color=C_NAVY, lw=2.4, zorder=6)
    ax.plot(tr, red, color=C_RED, lw=2.2, zorder=8)


axes = []
for r in range(3):
    for c in range(3):
        l, tp, w, h = col_left[c], row_top[r], col_w[c], row_h[r]
        ax = fig.add_axes([l / W, 1 - (tp + h) / H, w / W, h / H])
        draw(ax, *panels[r][c])
        if c < 2:
            ax.set_xlim(0, 80)
            ax.set_ylim(0, 80)
            ax.yaxis.set_major_locator(MultipleLocator(10))
            ax.yaxis.set_minor_locator(MultipleLocator(2))
            ticks, labs = date_days_short, date_labels_short
        else:
            ax.set_xlim(0, 140)
            ax.set_ylim(5, 30)
            ax.yaxis.set_major_locator(MultipleLocator(5))
            ax.yaxis.set_minor_locator(MultipleLocator(1))
            ticks, labs = date_days_long, date_labels_long
        ax.xaxis.set_minor_locator(MultipleLocator(4))
        ax.grid(True, which='major', color='#a8a8a8', lw=1.2, zorder=0)
        ax.set_axisbelow(True)
        for s in ax.spines.values():
            s.set_linewidth(1.6)
        ax.tick_params(which='major', direction='inout', length=9, width=1.3)
        ax.tick_params(axis='y', which='major', labelsize=13.5, pad=3)
        ax.tick_params(axis='x', which='major', labelsize=14.5, pad=7)
        ax.tick_params(which='minor', direction='in', length=4, width=1)
        if r == 2:
            ax.set_xticks(ticks, labs, rotation=68, ha='right', va='center',
                          rotation_mode='anchor')
        else:
            ax.set_xticks(ticks)
            ax.tick_params(axis='x', labelbottom=False)
        if c == 0:
            ax.set_ylabel('Temperature [°C]', fontsize=20.5, fontweight='bold', labelpad=2)
        if r == 2:
            y0 = 3.8 if c < 2 else 6.4
            mid = (inj_start[c] + inj_end[c]) / 2
            half = (inj_end[c] - inj_start[c]) / 2
            ax.errorbar([mid], [y0], xerr=[[half], [half]], fmt='none', ecolor='k',
                        elinewidth=2.2, capsize=7, capthick=2.2, zorder=9)
            ax.text(inj_end[c] + (2.0 if c < 2 else 3.5), y0, 'Injection',
                    fontsize=15, va='center', ha='left', zorder=9)
        axes.append(ax)

# column / row titles
fig.text(705 / W, 1 - 16 / H, 'Distance from Injection Well', ha='center', va='center',
         fontsize=20, fontweight='bold')
for x, s in zip([262, 703, 1172], col_titles):
    fig.text(x / W, 1 - 47 / H, s, ha='center', va='center', fontsize=20, fontweight='bold')
for y, s in zip([235, 580, 930], row_titles):
    fig.text(1385 / W, 1 - y / H, s, ha='center', va='center', rotation=90,
             fontsize=20, fontweight='bold', multialignment='center', linespacing=0.85)

# legend in lower-middle panel
handles = [Line2D([], [], ls='none', marker='o', ms=4, color=C_GRN),
           Line2D([], [], color=C_RED, lw=2.2),
           Line2D([], [], color=C_ORG, lw=2.0, ls=LS_ORG),
           Line2D([], [], color='k', lw=3.4),
           Line2D([], [], color=C_BLUE, lw=2.6, ls=LS_DSH),
           Line2D([], [], color=C_NAVY, lw=2.4)]
leg = axes[7].legend(handles, legend_labels, loc='upper left', bbox_to_anchor=(0.102, 0.956),
                     prop={'weight': 'bold', 'size': 13.5}, handlelength=4.5, handletextpad=0.6,
                     labelspacing=0.45, borderpad=0.55, borderaxespad=0, fancybox=False,
                     framealpha=1, edgecolor='k', numpoints=1)
leg.get_frame().set_linewidth(2)
leg.set_zorder(20)

fig.savefig('out.png', dpi=100)
